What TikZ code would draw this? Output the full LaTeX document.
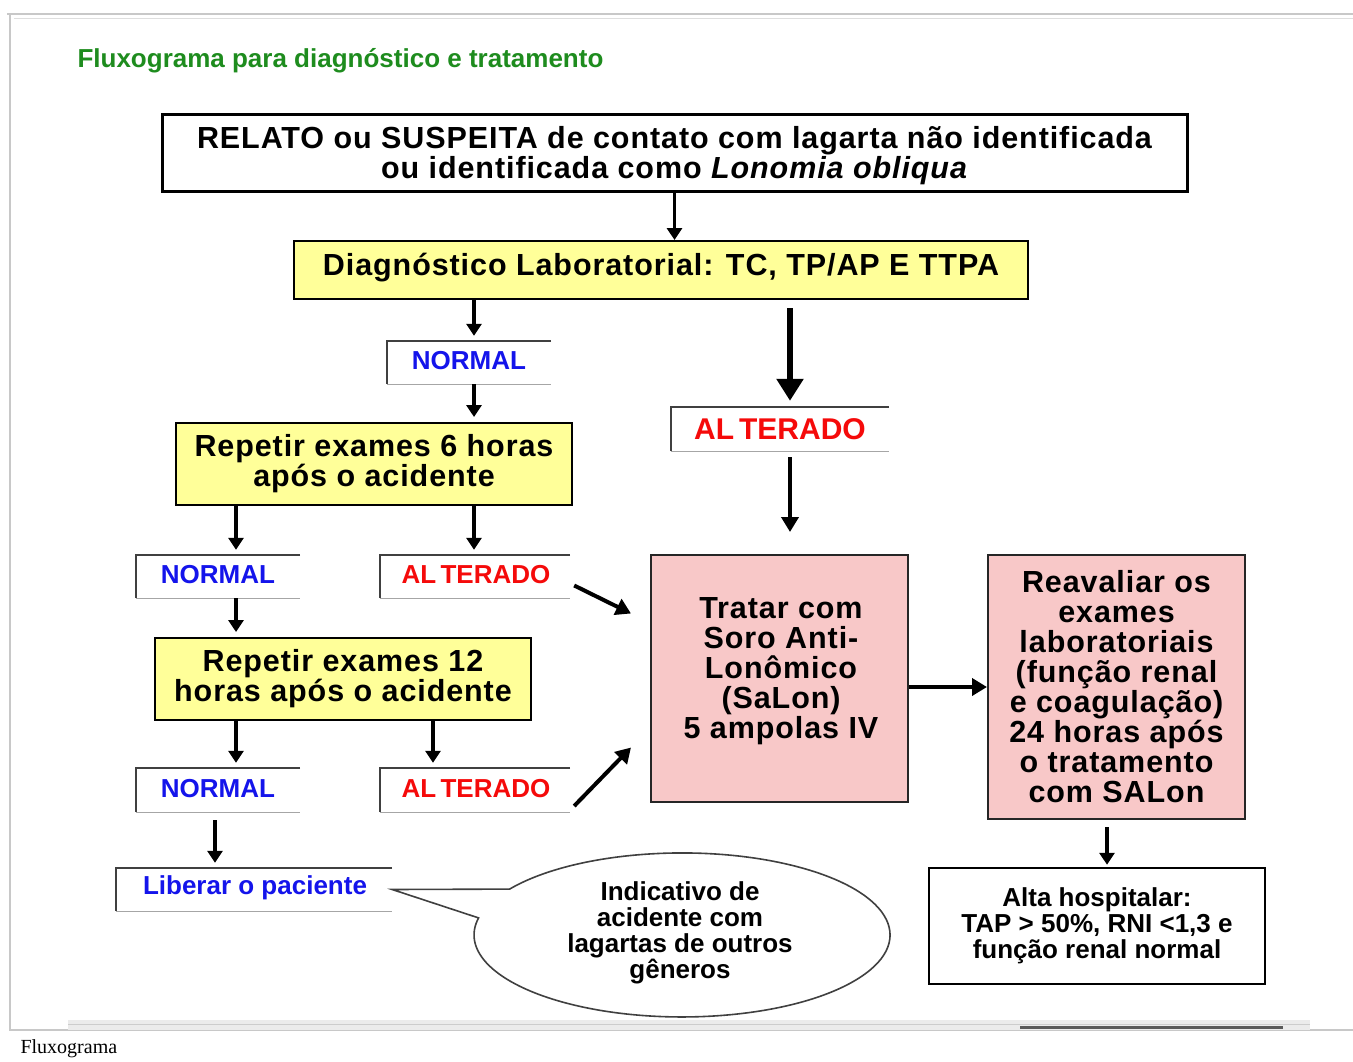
\documentclass[tikz,border=0pt]{standalone}
\usepackage{fontspec}
\setmainfont{Liberation Sans}
\newfontfamily\widesans{Liberation Sans}[LetterSpace=3]
\newfontfamily\capfont{Liberation Serif}
\usetikzlibrary{arrows.meta,shapes.geometric,calc}
\definecolor{ylw}{RGB}{255,255,153}
\definecolor{pnk}{RGB}{248,200,200}
\definecolor{ttlgreen}{RGB}{30,140,30}
\definecolor{lblue}{RGB}{20,20,235}
\definecolor{lred}{RGB}{245,10,10}
\definecolor{frame}{RGB}{200,200,200}
\tikzset{
  bigfont/.style={font=\widesans\bfseries\fontsize{30.5}{30}\selectfont},
  midfont/.style={font=\bfseries\fontsize{26}{26}\selectfont},
  box/.style={draw, align=center, inner sep=0pt, bigfont},
  ybox/.style={box, fill=ylw, line width=2pt},
  pbox/.style={box, fill=pnk, draw=black!85, line width=2pt},
  lbl/.style={inner sep=0pt, midfont},
  arr/.style={line width=3.5pt, -{Triangle[length=12pt,width=15pt]}},
  arrbig/.style={line width=6pt, -{Triangle[length=22pt,width=26pt]}},
  arrmid/.style={line width=4pt, -{Triangle[length=15pt,width=17pt]}},
}
\newcommand{\openbox}[1]{%
  \draw[line width=1.4pt, black!75] (#1.north east) -- (#1.north west) -- (#1.south west);
  \draw[line width=1.2pt, black!35] (#1.south west) -- (#1.south east);}
\begin{document}
\begin{tikzpicture}[x=1pt,y=-1pt]
\useasboundingbox (0,0) rectangle (1353,1062);
\fill[white] (0,0) rectangle (1353,1062);
% screenshot frame
\draw[frame, line width=1.2pt] (7,14) -- (1353,14);
\draw[frame!60, line width=1pt] (14,19) -- (1353,19);
\draw[frame, line width=1.2pt] (10,14) -- (10,1030) -- (1353,1030);
\fill[black!8] (68,1020) rectangle (1310,1030);
\draw[black!20, line width=0.8pt] (68,1024) -- (1310,1024);
\fill[black!65] (1020,1026) rectangle (1283,1029);
\node[anchor=west, font=\capfont\fontsize{20}{20}\selectfont] (cap) at (17,1049) {Fluxograma};

% title
\node[anchor=west, text=ttlgreen, font=\bfseries\fontsize{26}{26}\selectfont] (title) at (74,61) {Fluxograma para diagnóstico e tratamento};

% main boxes
\node[box, line width=3pt, minimum width=1025, minimum height=77] (b1) at (674.5,153.5) {};
\node[bigfont, align=center, inner sep=0pt] (b1T) at (674.5,156)
  {RELATO ou SUSPEITA de contato com lagarta não identificada\\ou identificada como \textit{Lonomia obliqua}};
\node[ybox, minimum width=734, minimum height=58, text depth=11pt] (b2) at (661,270)
  {Diagnóstico Laboratorial: TC, TP/AP E TTPA};
\node[ybox, minimum width=396, minimum height=82] (b3) at (374,464)
  {Repetir exames 6 horas\\após o acidente};
\node[ybox, minimum width=376, minimum height=82] (b4) at (343,679)
  {Repetir exames 12\\horas após o acidente};
\node[pbox, minimum width=257, minimum height=247] (trat) at (779.5,678.5) {};
\node[bigfont, align=center, inner sep=0pt] (tratT) at (781,671)
  {Tratar com\\Soro Anti-\\Lonômico\\(SaLon)\\5 ampolas IV};
\node[pbox, minimum width=257, minimum height=264] (reav) at (1116.5,687)
  {Reavaliar os\\exames\\laboratoriais\\(função renal\\e coagulação)\\24 horas após\\o tratamento\\com SALon};
\node[box, line width=2.5pt, minimum width=336, minimum height=116,
  font=\bfseries\fontsize{26}{26}\selectfont] (alta) at (1097,926)
  {Alta hospitalar:\\TAP > 50\%, RNI <1,3 e\\função renal normal};

% open label boxes
\node[lbl, text=lblue, minimum width=164, minimum height=43] (n1) at (469,362.5) {};
\node[lbl, text=lblue] at (469,361) {NORMAL};
\node[lbl, minimum width=218, minimum height=44] (a1) at (780,429) {};
\node[lbl, text=lred, font=\bfseries\fontsize{30}{30}\selectfont] at (780,429) {AL\,TERADO};
\node[lbl, minimum width=164, minimum height=43] (n2) at (218,576.5) {};
\node[lbl, text=lblue] at (218,575) {NORMAL};
\node[lbl, minimum width=190, minimum height=43] (a2) at (475,576.5) {};
\node[lbl, text=lred] at (476,575) {AL\,TERADO};
\node[lbl, minimum width=164, minimum height=44] (n3) at (218,790) {};
\node[lbl, text=lblue] at (218,789) {NORMAL};
\node[lbl, minimum width=190, minimum height=44] (a3) at (475,790) {};
\node[lbl, text=lred] at (476,789) {AL\,TERADO};
\node[lbl, minimum width=276, minimum height=43] (lib) at (254,889.5) {};
\node[lbl, text=lblue] at (255,888) {Liberar o paciente};
\openbox{n1}\openbox{a1}\openbox{n2}\openbox{a2}\openbox{n3}\openbox{a3}\openbox{lib}

% callout
\coordinate (ec) at (682,935);
\draw[line width=1.6pt, black!75, fill=white]
  ($(ec)+(-172.4,-45.9)$) arc[start angle=-146, end angle=192, x radius=208, y radius=82]
  -- (lib.east) -- cycle;
\node[align=center, font=\bfseries\fontsize{26}{26}\selectfont] (ellT) at (680,933)
  {Indicativo de\\acidente com\\lagartas de outros\\gêneros};

% connectors
\draw[arr] (b1.south) -- (b1.south |- b2.north);
\draw[arr] ($(n1.north |- b2.south)+(5,0)$) -- ($(n1.north)+(5,-5)$);
\draw[arr] ($(n1.south)+(5,0)$) -- ($(n1.south |- b3.north)+(5,-5)$);
\draw[arrbig] ($(a1.north |- b2.south)+(10,8)$) -- ($(a1.north)+(10,-6)$);
\draw[arrmid] ($(a1.south)+(10,6)$) -- ($(a1.south |- trat.north)+(10,-22)$);
\draw[arr] ($(n2.north |- b3.south)+(18,0)$) -- ($(n2.north)+(18,-5)$);
\draw[arr] ($(a2.north |- b3.south)+(-1,0)$) -- ($(a2.north)+(-1,-5)$);
\draw[arr] ($(n2.south)+(18,0)$) -- ($(n2.south |- b4.north)+(18,-5)$);
\draw[arr] ($(n3.north |- b4.south)+(18,0)$) -- ($(n3.north)+(18,-5)$);
\draw[arr] ($(a3.north |- b4.south)+(-42,0)$) -- ($(a3.north)+(-42,-5)$);
\draw[arrmid] ($(a2.east)+(4,9)$) -- ($(trat.west)+(-19,-65)$);
\draw[arrmid] ($(a3.east)+(4,16)$) -- ($(trat.west)+(-19,69)$);
\draw[arr] ($(n3.south)+(-3,8)$) -- ($(n3.south |- lib.north)+(-3,-5)$);
\draw[arrmid] (trat.east |- reav.west) -- (reav.west);
\draw[arr] ($(reav.south)+(-9.5,7)$) -- ($(reav.south |- alta.north)+(-9.5,-2)$);
\end{tikzpicture}
\end{document}
